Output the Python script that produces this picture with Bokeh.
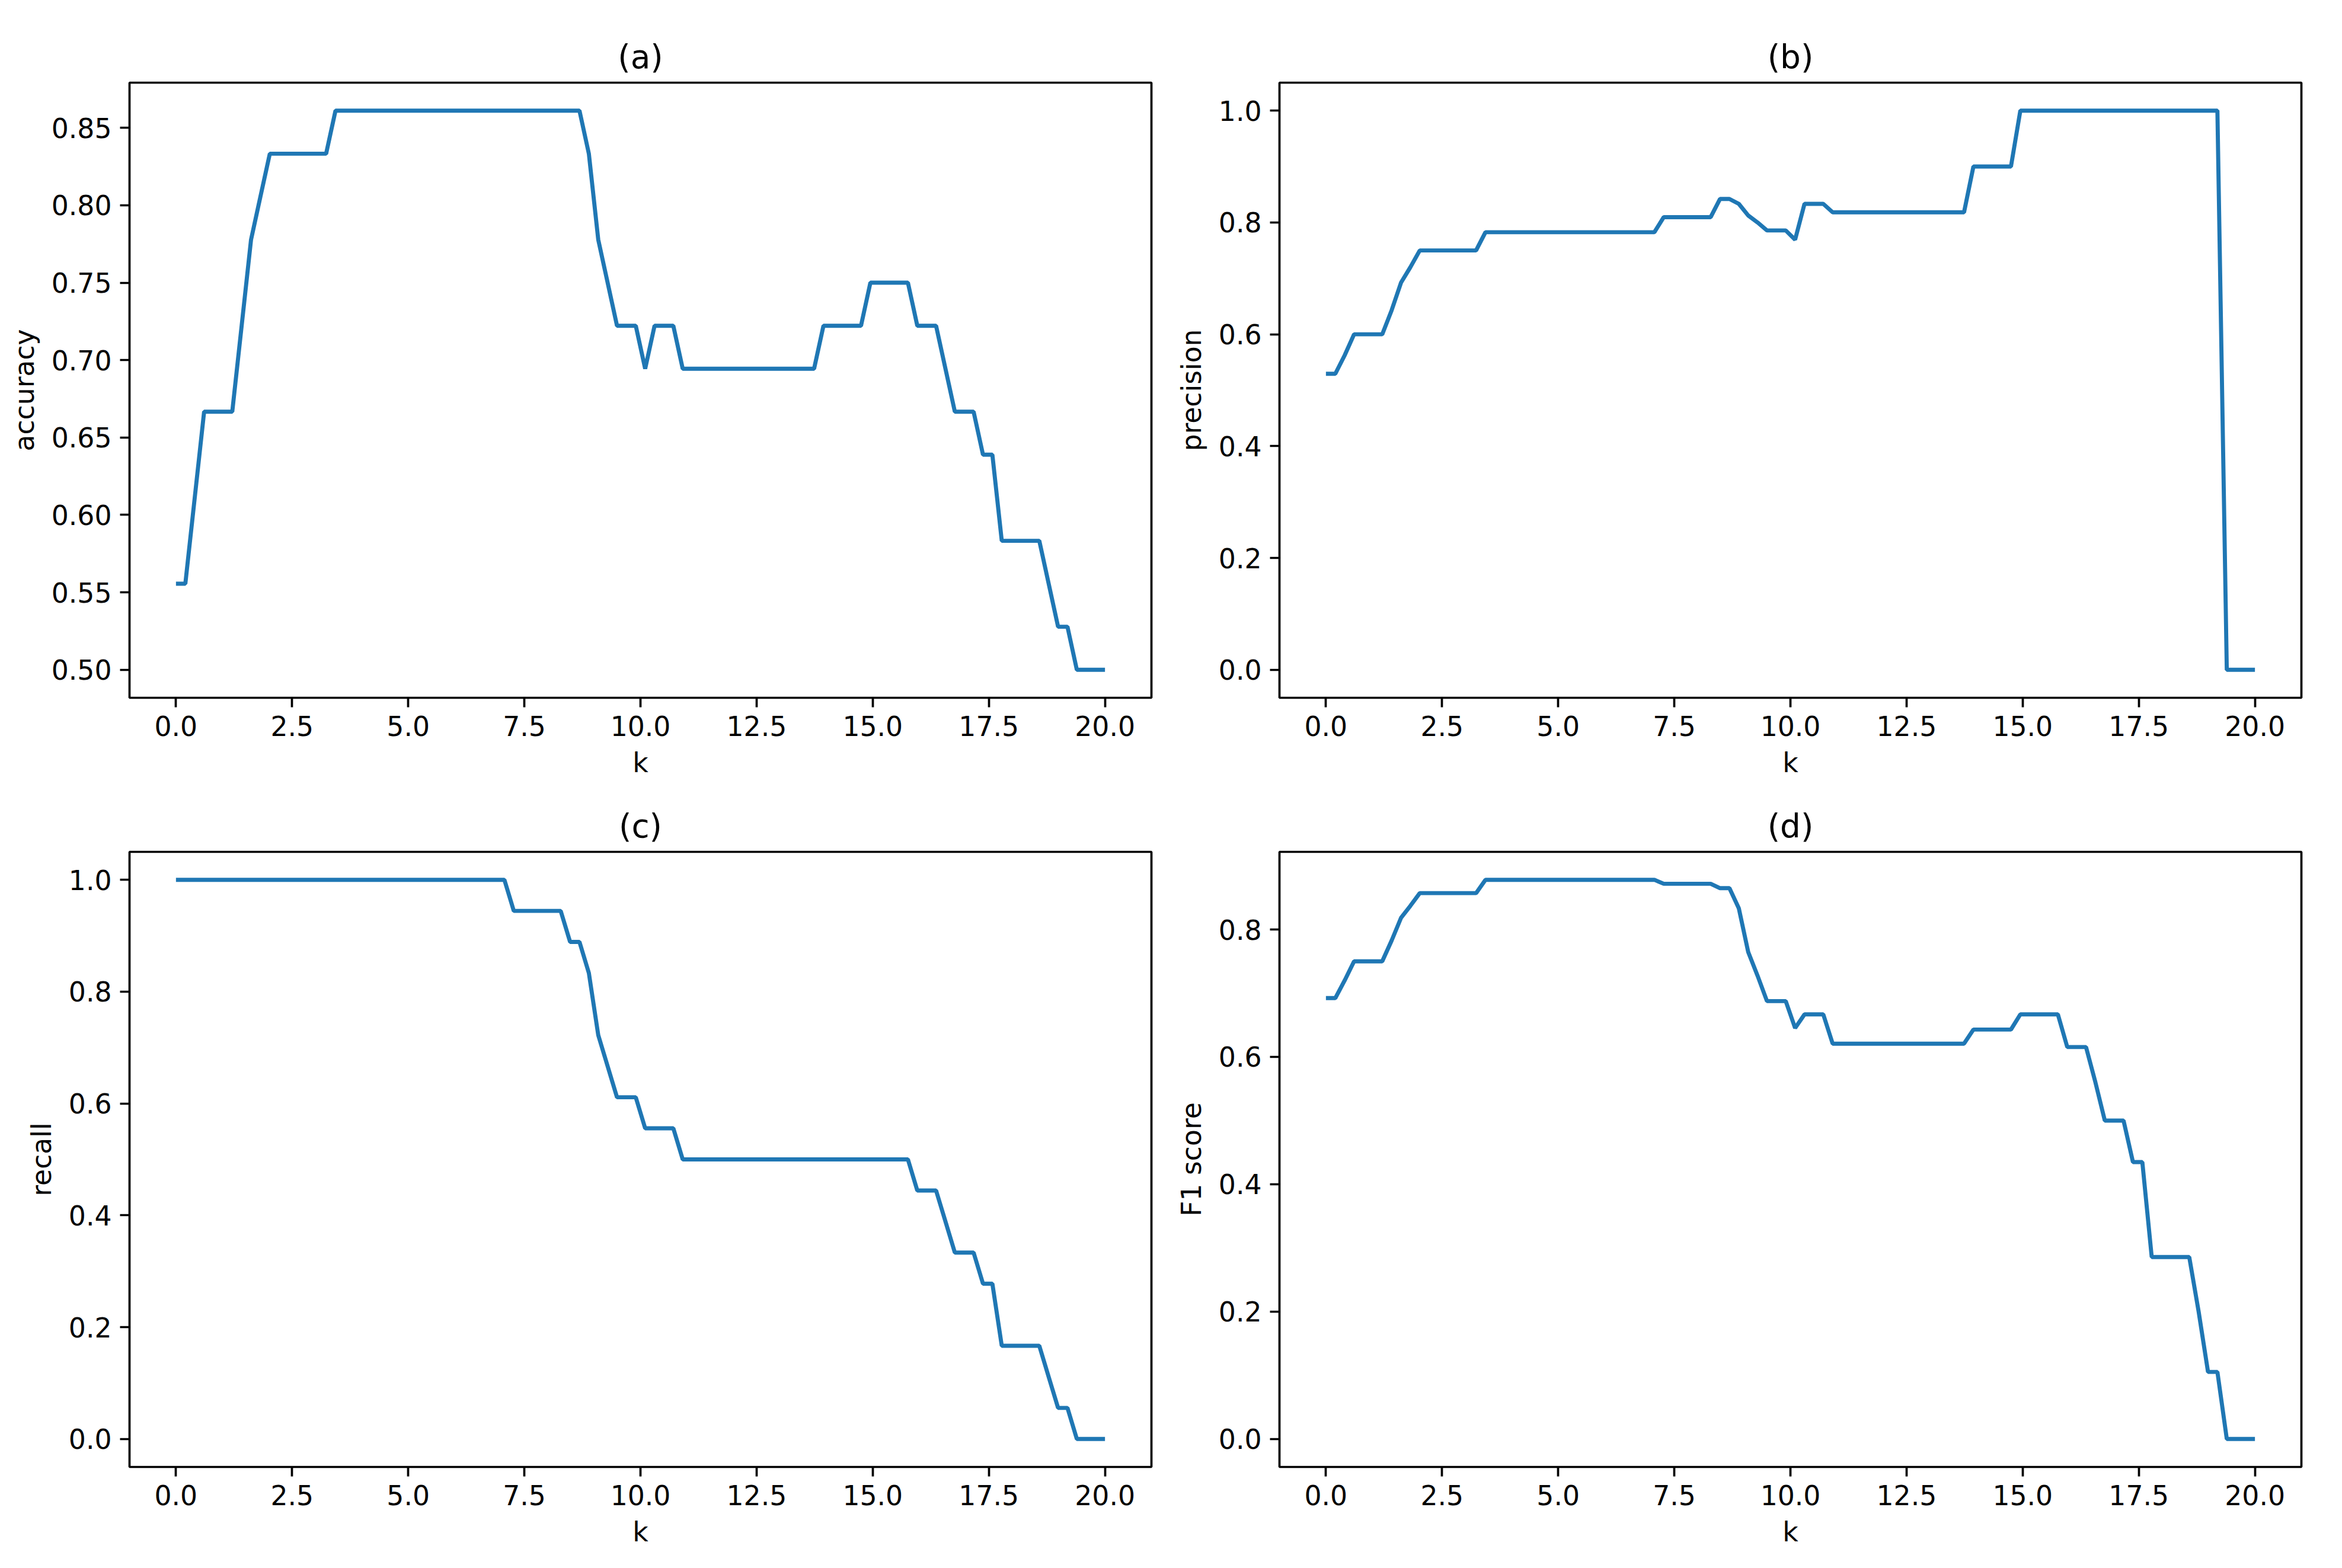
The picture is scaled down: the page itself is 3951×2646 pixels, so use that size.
import numpy as np
from bokeh.plotting import figure
from bokeh.layouts import column, row
from bokeh.models import Range1d, FixedTicker, PrintfTickFormatter
from bokeh.embed import file_html
from bokeh.resources import INLINE

# k grid: 100 evenly spaced values from 0 to 20
k = np.linspace(0, 20, 100)

accuracy = [
    0.5556, 0.5556, 0.6111, 0.6667, 0.6667, 0.6667, 0.6667, 0.7222, 0.7778, 0.8056,
    0.8333, 0.8333, 0.8333, 0.8333, 0.8333, 0.8333, 0.8333, 0.8611, 0.8611, 0.8611,
    0.8611, 0.8611, 0.8611, 0.8611, 0.8611, 0.8611, 0.8611, 0.8611, 0.8611, 0.8611,
    0.8611, 0.8611, 0.8611, 0.8611, 0.8611, 0.8611, 0.8611, 0.8611, 0.8611, 0.8611,
    0.8611, 0.8611, 0.8611, 0.8611, 0.8333, 0.7778, 0.7500, 0.7222, 0.7222, 0.7222,
    0.6944, 0.7222, 0.7222, 0.7222, 0.6944, 0.6944, 0.6944, 0.6944, 0.6944, 0.6944,
    0.6944, 0.6944, 0.6944, 0.6944, 0.6944, 0.6944, 0.6944, 0.6944, 0.6944, 0.7222,
    0.7222, 0.7222, 0.7222, 0.7222, 0.7500, 0.7500, 0.7500, 0.7500, 0.7500, 0.7222,
    0.7222, 0.7222, 0.6944, 0.6667, 0.6667, 0.6667, 0.6389, 0.6389, 0.5833, 0.5833,
    0.5833, 0.5833, 0.5833, 0.5556, 0.5278, 0.5278, 0.5000, 0.5000, 0.5000, 0.5000,
]

precision = [
    0.5294, 0.5294, 0.5625, 0.6000, 0.6000, 0.6000, 0.6000, 0.6429, 0.6923, 0.7200,
    0.7500, 0.7500, 0.7500, 0.7500, 0.7500, 0.7500, 0.7500, 0.7826, 0.7826, 0.7826,
    0.7826, 0.7826, 0.7826, 0.7826, 0.7826, 0.7826, 0.7826, 0.7826, 0.7826, 0.7826,
    0.7826, 0.7826, 0.7826, 0.7826, 0.7826, 0.7826, 0.8095, 0.8095, 0.8095, 0.8095,
    0.8095, 0.8095, 0.8421, 0.8421, 0.8333, 0.8125, 0.8000, 0.7857, 0.7857, 0.7857,
    0.7692, 0.8333, 0.8333, 0.8333, 0.8182, 0.8182, 0.8182, 0.8182, 0.8182, 0.8182,
    0.8182, 0.8182, 0.8182, 0.8182, 0.8182, 0.8182, 0.8182, 0.8182, 0.8182, 0.9000,
    0.9000, 0.9000, 0.9000, 0.9000, 1.0000, 1.0000, 1.0000, 1.0000, 1.0000, 1.0000,
    1.0000, 1.0000, 1.0000, 1.0000, 1.0000, 1.0000, 1.0000, 1.0000, 1.0000, 1.0000,
    1.0000, 1.0000, 1.0000, 1.0000, 1.0000, 1.0000, 0.0000, 0.0000, 0.0000, 0.0000,
]

recall = [
    1.0000, 1.0000, 1.0000, 1.0000, 1.0000, 1.0000, 1.0000, 1.0000, 1.0000, 1.0000,
    1.0000, 1.0000, 1.0000, 1.0000, 1.0000, 1.0000, 1.0000, 1.0000, 1.0000, 1.0000,
    1.0000, 1.0000, 1.0000, 1.0000, 1.0000, 1.0000, 1.0000, 1.0000, 1.0000, 1.0000,
    1.0000, 1.0000, 1.0000, 1.0000, 1.0000, 1.0000, 0.9444, 0.9444, 0.9444, 0.9444,
    0.9444, 0.9444, 0.8889, 0.8889, 0.8333, 0.7222, 0.6667, 0.6111, 0.6111, 0.6111,
    0.5556, 0.5556, 0.5556, 0.5556, 0.5000, 0.5000, 0.5000, 0.5000, 0.5000, 0.5000,
    0.5000, 0.5000, 0.5000, 0.5000, 0.5000, 0.5000, 0.5000, 0.5000, 0.5000, 0.5000,
    0.5000, 0.5000, 0.5000, 0.5000, 0.5000, 0.5000, 0.5000, 0.5000, 0.5000, 0.4444,
    0.4444, 0.4444, 0.3889, 0.3333, 0.3333, 0.3333, 0.2778, 0.2778, 0.1667, 0.1667,
    0.1667, 0.1667, 0.1667, 0.1111, 0.0556, 0.0556, 0.0000, 0.0000, 0.0000, 0.0000,
]

f1_score = [
    0.6923, 0.6923, 0.7200, 0.7500, 0.7500, 0.7500, 0.7500, 0.7826, 0.8182, 0.8372,
    0.8571, 0.8571, 0.8571, 0.8571, 0.8571, 0.8571, 0.8571, 0.8780, 0.8780, 0.8780,
    0.8780, 0.8780, 0.8780, 0.8780, 0.8780, 0.8780, 0.8780, 0.8780, 0.8780, 0.8780,
    0.8780, 0.8780, 0.8780, 0.8780, 0.8780, 0.8780, 0.8718, 0.8718, 0.8718, 0.8718,
    0.8718, 0.8718, 0.8649, 0.8649, 0.8333, 0.7647, 0.7273, 0.6875, 0.6875, 0.6875,
    0.6452, 0.6667, 0.6667, 0.6667, 0.6207, 0.6207, 0.6207, 0.6207, 0.6207, 0.6207,
    0.6207, 0.6207, 0.6207, 0.6207, 0.6207, 0.6207, 0.6207, 0.6207, 0.6207, 0.6429,
    0.6429, 0.6429, 0.6429, 0.6429, 0.6667, 0.6667, 0.6667, 0.6667, 0.6667, 0.6154,
    0.6154, 0.6154, 0.5600, 0.5000, 0.5000, 0.5000, 0.4348, 0.4348, 0.2857, 0.2857,
    0.2857, 0.2857, 0.2857, 0.2000, 0.1053, 0.1053, 0.0000, 0.0000, 0.0000, 0.0000,
]

x_ticks = [0, 2.5, 5, 7.5, 10, 12.5, 15, 17.5, 20]
acc_ticks = [0.50, 0.55, 0.60, 0.65, 0.70, 0.75, 0.80, 0.85]
unit_ticks = [0.0, 0.2, 0.4, 0.6, 0.8, 1.0]
f1_ticks = [0.0, 0.2, 0.4, 0.6, 0.8]

FONT = "DejaVu Sans"
TICK_PX = "45.7px"
TITLE_PX = "54.8px"
LW = 3.7
FRAME_W = 1724
FRAME_H = 1038


def make_panel(title, ylabel, y, yr, yticks, yfmt, borders):
    left, right, top, bottom = borders
    p = figure(frame_width=FRAME_W, frame_height=FRAME_H,
               x_range=Range1d(-1, 21), y_range=Range1d(*yr),
               output_backend="svg", toolbar_location=None, tools="",
               min_border_left=left, min_border_right=right,
               min_border_top=top, min_border_bottom=bottom,
               background_fill_color="white", border_fill_color="white")
    p.title.text = title
    p.title.align = "center"
    p.title.text_font = FONT
    p.title.text_font_size = TITLE_PX
    p.title.text_font_style = "normal"
    p.title.text_color = "black"
    p.title.standoff = 24
    p.outline_line_color = "black"
    p.outline_line_width = LW
    p.outline_line_alpha = 1.0
    p.xgrid.visible = False
    p.ygrid.visible = False

    p.xaxis.ticker = FixedTicker(ticks=x_ticks)
    p.xaxis.formatter = PrintfTickFormatter(format="%.1f")
    p.yaxis.ticker = FixedTicker(ticks=yticks)
    p.yaxis.formatter = PrintfTickFormatter(format=yfmt)
    p.xaxis.axis_label = "k"
    p.yaxis.axis_label = ylabel
    for ax in (p.xaxis, p.yaxis):
        ax.axis_line_color = None
        ax.major_tick_line_color = "black"
        ax.major_tick_line_width = LW
        ax.major_tick_out = 16
        ax.major_tick_in = 0
        ax.minor_tick_line_color = None
        ax.major_label_text_font = FONT
        ax.major_label_text_font_size = TICK_PX
        ax.major_label_text_color = "black"
        ax.major_label_standoff = 14
        ax.axis_label_text_font = FONT
        ax.axis_label_text_font_size = TICK_PX
        ax.axis_label_text_font_style = "normal"
        ax.axis_label_text_color = "black"
        ax.axis_label_standoff = 16

    p.line(k, y, line_color="#1f77b4", line_width=6.9)
    return p


pa = make_panel("(a)", "accuracy", accuracy, (0.4819, 0.8792), acc_ticks, "%.2f",
                (218, 16, 139, 170))
pb = make_panel("(b)", "precision", precision, (-0.05, 1.05), unit_ticks, "%.1f",
                (200, 36, 139, 170))
pc = make_panel("(c)", "recall", recall, (-0.05, 1.05), unit_ticks, "%.1f",
                (218, 16, 88, 140))
pd = make_panel("(d)", "F1 score", f1_score, (-0.0439, 0.9219), f1_ticks, "%.1f",
                (200, 36, 88, 140))

layout = column(row(pa, pb), row(pc, pd))

with open("out.html", "w") as f:
    f.write(file_html(layout, INLINE))
